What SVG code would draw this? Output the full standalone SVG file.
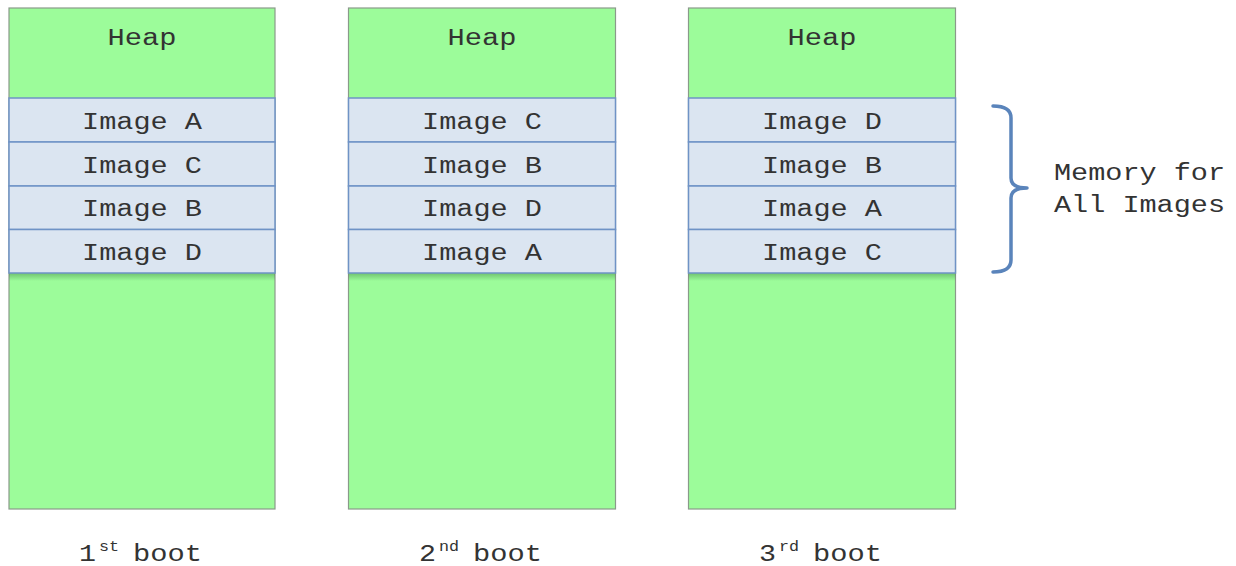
<svg xmlns="http://www.w3.org/2000/svg" width="1236" height="566" viewBox="0 0 1236 566">
<defs>
<linearGradient id="sh" x1="0" y1="0" x2="0" y2="1">
<stop offset="0" stop-color="#3a7a3a" stop-opacity="0.45"/>
<stop offset="1" stop-color="#3a7a3a" stop-opacity="0"/>
</linearGradient>
</defs>
<style>
.heap{fill:#9cfc9a;stroke:#8a9a8a;stroke-width:1.2}
.img{fill:#dbe5f1;stroke:#6f93c6;stroke-width:1.5}
.t{font-family:"Liberation Mono","Courier New",monospace;font-size:23px;fill:#333}
.s{font-family:"Liberation Mono","Courier New",monospace;font-size:15px;fill:#333}
.br{fill:none;stroke:#5a84bb;stroke-width:3.5;stroke-linecap:round;stroke-linejoin:round}
</style>
<rect width="1236" height="566" fill="#fff"/>
<g id="boot1">
<rect class="heap" x="9" y="8" width="266" height="501"/>
<text class="t" x="142" y="45" text-anchor="middle" textLength="69" lengthAdjust="spacingAndGlyphs">Heap</text>
<rect x="9" y="273" width="266" height="8" fill="url(#sh)"/>
<rect class="img" x="9" y="98" width="266" height="44"/>
<rect class="img" x="9" y="142" width="266" height="44"/>
<rect class="img" x="9" y="186" width="266" height="43.5"/>
<rect class="img" x="9" y="229.5" width="266" height="43.5"/>
<text class="t" x="142" y="129" text-anchor="middle" textLength="120" lengthAdjust="spacingAndGlyphs">Image A</text>
<text class="t" x="142" y="173" text-anchor="middle" textLength="120" lengthAdjust="spacingAndGlyphs">Image C</text>
<text class="t" x="142" y="216" text-anchor="middle" textLength="120" lengthAdjust="spacingAndGlyphs">Image B</text>
<text class="t" x="142" y="260" text-anchor="middle" textLength="120" lengthAdjust="spacingAndGlyphs">Image D</text>
<text class="t" x="79" y="561" textLength="17" lengthAdjust="spacingAndGlyphs">1</text>
<text class="s" x="99" y="551" textLength="20" lengthAdjust="spacingAndGlyphs">st</text>
<text class="t" x="133" y="561" textLength="69" lengthAdjust="spacingAndGlyphs">boot</text>
</g>
<g id="boot2">
<rect class="heap" x="348.5" y="8" width="267" height="501"/>
<text class="t" x="482" y="45" text-anchor="middle" textLength="69" lengthAdjust="spacingAndGlyphs">Heap</text>
<rect x="348.5" y="273" width="267" height="8" fill="url(#sh)"/>
<rect class="img" x="348.5" y="98" width="267" height="44"/>
<rect class="img" x="348.5" y="142" width="267" height="44"/>
<rect class="img" x="348.5" y="186" width="267" height="43.5"/>
<rect class="img" x="348.5" y="229.5" width="267" height="43.5"/>
<text class="t" x="482" y="129" text-anchor="middle" textLength="120" lengthAdjust="spacingAndGlyphs">Image C</text>
<text class="t" x="482" y="173" text-anchor="middle" textLength="120" lengthAdjust="spacingAndGlyphs">Image B</text>
<text class="t" x="482" y="216" text-anchor="middle" textLength="120" lengthAdjust="spacingAndGlyphs">Image D</text>
<text class="t" x="482" y="260" text-anchor="middle" textLength="120" lengthAdjust="spacingAndGlyphs">Image A</text>
<text class="t" x="419" y="561" textLength="17" lengthAdjust="spacingAndGlyphs">2</text>
<text class="s" x="439" y="551" textLength="20" lengthAdjust="spacingAndGlyphs">nd</text>
<text class="t" x="473" y="561" textLength="69" lengthAdjust="spacingAndGlyphs">boot</text>
</g>
<g id="boot3">
<rect class="heap" x="688.5" y="8" width="267" height="501"/>
<text class="t" x="822" y="45" text-anchor="middle" textLength="69" lengthAdjust="spacingAndGlyphs">Heap</text>
<rect x="688.5" y="273" width="267" height="8" fill="url(#sh)"/>
<rect class="img" x="688.5" y="98" width="267" height="44"/>
<rect class="img" x="688.5" y="142" width="267" height="44"/>
<rect class="img" x="688.5" y="186" width="267" height="43.5"/>
<rect class="img" x="688.5" y="229.5" width="267" height="43.5"/>
<text class="t" x="822" y="129" text-anchor="middle" textLength="120" lengthAdjust="spacingAndGlyphs">Image D</text>
<text class="t" x="822" y="173" text-anchor="middle" textLength="120" lengthAdjust="spacingAndGlyphs">Image B</text>
<text class="t" x="822" y="216" text-anchor="middle" textLength="120" lengthAdjust="spacingAndGlyphs">Image A</text>
<text class="t" x="822" y="260" text-anchor="middle" textLength="120" lengthAdjust="spacingAndGlyphs">Image C</text>
<text class="t" x="759" y="561" textLength="17" lengthAdjust="spacingAndGlyphs">3</text>
<text class="s" x="779" y="551" textLength="20" lengthAdjust="spacingAndGlyphs">rd</text>
<text class="t" x="813" y="561" textLength="69" lengthAdjust="spacingAndGlyphs">boot</text>
</g>
<g id="brace">
<path class="br" d="M993,106 Q1011,106 1011,118 L1011,178 Q1011,188 1027,188 Q1011,188 1011,198 L1011,260 Q1011,272 993,272"/>
<text class="t" x="1054" y="180" textLength="171" lengthAdjust="spacingAndGlyphs">Memory for</text>
<text class="t" x="1054" y="212" textLength="171" lengthAdjust="spacingAndGlyphs">All Images</text>
</g>
</svg>
